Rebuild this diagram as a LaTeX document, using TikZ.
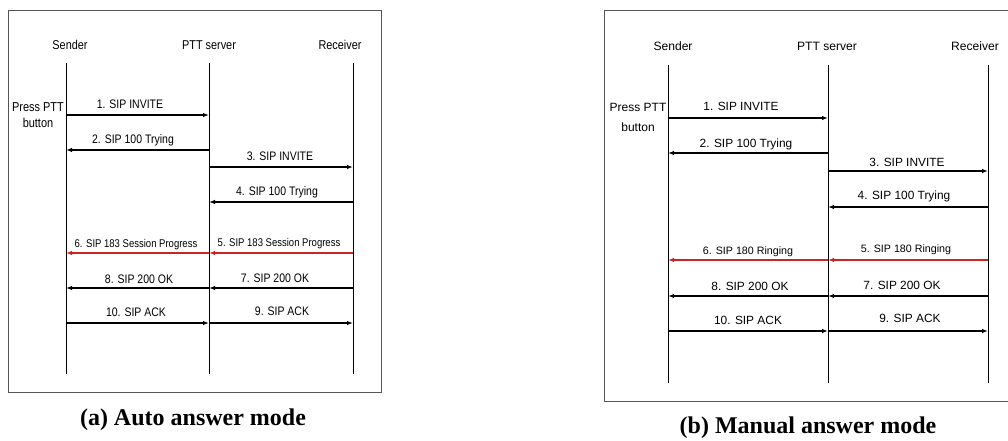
\documentclass[tikz,border=0pt]{standalone}
\usepackage{fontspec}
\setmainfont{Liberation Sans}
\newfontfamily\narrowsans[FakeStretch=0.85]{Liberation Sans}
\newfontfamily\capfont{Liberation Serif}
\usetikzlibrary{arrows.meta}
\definecolor{FrameGray}{RGB}{85,85,85}
\definecolor{SigRed}{RGB}{205,35,35}
\tikzset{
  >=Latex,
  frame/.style={draw=FrameGray,line width=1pt},
  lifeline/.style={draw=black,line width=.9pt},
  msg/.style={-{Latex[length=6pt,width=4.5pt]},line width=1.2pt,draw=black},
  msgRed/.style={msg,draw=SigRed},
  txtbase/.style={inner sep=0pt,text height=1.6ex,text depth=.22ex},
  txtA/.style={txtbase,font=\narrowsans\fontsize{#1}{#1}\selectfont},
  txtB/.style={txtbase,font=\fontsize{#1}{#1}\selectfont},
  press/.style={inner sep=0pt,align=center},
  caption/.style={txtbase,font=\capfont\bfseries\fontsize{24}{24}\selectfont}
}

\begin{document}
\begin{tikzpicture}[x=1pt,y=-1pt]
  \useasboundingbox (0,0) rectangle (1008,441);
  \clip (0,0) rectangle (1008,441);
  % (a) auto answer mode
  \draw[frame] (8,11) rectangle (381,392);
  \node[txtA=12.8] (sndAhead) at (70,46) {Sender};
  \node[txtA=12.8] (srvAhead) at (209,46) {PTT server};
  \node[txtA=12.8] (rcvAhead) at (340,46) {Receiver};
  \coordinate (sndA) at (66,63);
  \coordinate (srvA) at (209,63);
  \coordinate (rcvA) at (353,63);
  \coordinate (sndAend) at (66,374);
  \coordinate (srvAend) at (209,374);
  \coordinate (rcvAend) at (353,374);
  \draw[lifeline] (sndA) -- (sndAend);
  \draw[lifeline] (srvA) -- (srvAend);
  \draw[lifeline] (rcvA) -- (rcvAend);
  \node[press,font=\narrowsans\fontsize{12.9}{16}\selectfont] (pressA) at (38,115) {Press PTT\\button};
  \draw[msg] (sndA |- 0,115) -- (srvA |- 0,115);
  \draw[msg] (srvA |- 0,150) -- (sndA |- 0,150);
  \draw[msg] (srvA |- 0,167) -- (rcvA |- 0,167);
  \draw[msg] (rcvA |- 0,202) -- (srvA |- 0,202);
  \draw[msgRed] (rcvA |- 0,253) -- (srvA |- 0,253);
  \draw[msgRed] (srvA |- 0,253) -- (sndA |- 0,253);
  \draw[msg] (rcvA |- 0,288) -- (srvA |- 0,288);
  \draw[msg] (srvA |- 0,288) -- (sndA |- 0,288);
  \draw[msg] (sndA |- 0,323) -- (srvA |- 0,323);
  \draw[msg] (srvA |- 0,323) -- (rcvA |- 0,323);
  \node[txtA=12.35] (mA1) at (130,105) {1. SIP INVITE};
  \node[txtA=12.35] (mA2) at (133,140) {2. SIP 100 Trying};
  \node[txtA=12.35] (mA3) at (280,157) {3. SIP INVITE};
  \node[txtA=12.35] (mA4) at (277,192) {4. SIP 100 Trying};
  \node[txtA=11.2] (mA5) at (279,243) {5. SIP 183 Session Progress};
  \node[txtA=11.2] (mA6) at (136,244) {6. SIP 183 Session Progress};
  \node[txtA=12.35] (mA7) at (275,279) {7. SIP 200 OK};
  \node[txtA=12.35] (mA8) at (139,280) {8. SIP 200 OK};
  \node[txtA=12.35] (mA9) at (282,312) {9. SIP ACK};
  \node[txtA=12.35] (mA10) at (136,313) {10. SIP ACK};
  \node[caption] (capA) at (193,422) {(a) Auto answer mode};
  % (b) manual answer mode
  \draw[frame] (604,11) rectangle (1015,401);
  \node[txtB=12.1] (sndBhead) at (673,47) {Sender};
  \node[txtB=12.1] (srvBhead) at (827,47) {PTT server};
  \node[txtB=12.1] (rcvBhead) at (975,47) {Receiver};
  \coordinate (sndB) at (668,65);
  \coordinate (srvB) at (828,65);
  \coordinate (rcvB) at (988,65);
  \coordinate (sndBend) at (668,383);
  \coordinate (srvBend) at (828,383);
  \coordinate (rcvBend) at (988,383);
  \draw[lifeline] (sndB) -- (sndBend);
  \draw[lifeline] (srvB) -- (srvBend);
  \draw[lifeline] (rcvB) -- (rcvBend);
  \node[press,font=\fontsize{12}{20}\selectfont] (pressB) at (638,117) {Press PTT\\button};
  \draw[msg] (sndB |- 0,118) -- (srvB |- 0,118);
  \draw[msg] (srvB |- 0,153) -- (sndB |- 0,153);
  \draw[msg] (srvB |- 0,171) -- (rcvB |- 0,171);
  \draw[msg] (rcvB |- 0,207) -- (srvB |- 0,207);
  \draw[msgRed] (rcvB |- 0,260) -- (srvB |- 0,260);
  \draw[msgRed] (srvB |- 0,260) -- (sndB |- 0,260);
  \draw[msg] (rcvB |- 0,296) -- (srvB |- 0,296);
  \draw[msg] (srvB |- 0,296) -- (sndB |- 0,296);
  \draw[msg] (sndB |- 0,331) -- (srvB |- 0,331);
  \draw[msg] (srvB |- 0,331) -- (rcvB |- 0,331);
  \node[txtB=11.9] (mB1) at (741,107) {1. SIP INVITE};
  \node[txtB=11.9] (mB2) at (746,144) {2. SIP 100 Trying};
  \node[txtB=11.9] (mB3) at (907,163) {3. SIP INVITE};
  \node[txtB=11.9] (mB4) at (904,196) {4. SIP 100 Trying};
  \node[txtB=10.7] (mB5) at (906,249) {5. SIP 180 Ringing};
  \node[txtB=10.7] (mB6) at (748,251) {6. SIP 180 Ringing};
  \node[txtB=11.9] (mB7) at (902,286) {7. SIP 200 OK};
  \node[txtB=11.9] (mB8) at (750,287) {8. SIP 200 OK};
  \node[txtB=11.9] (mB9) at (910,319) {9. SIP ACK};
  \node[txtB=11.9] (mB10) at (748,321) {10. SIP ACK};
  \node[caption] (capB) at (808,430) {(b) Manual answer mode};
\end{tikzpicture}
\end{document}
